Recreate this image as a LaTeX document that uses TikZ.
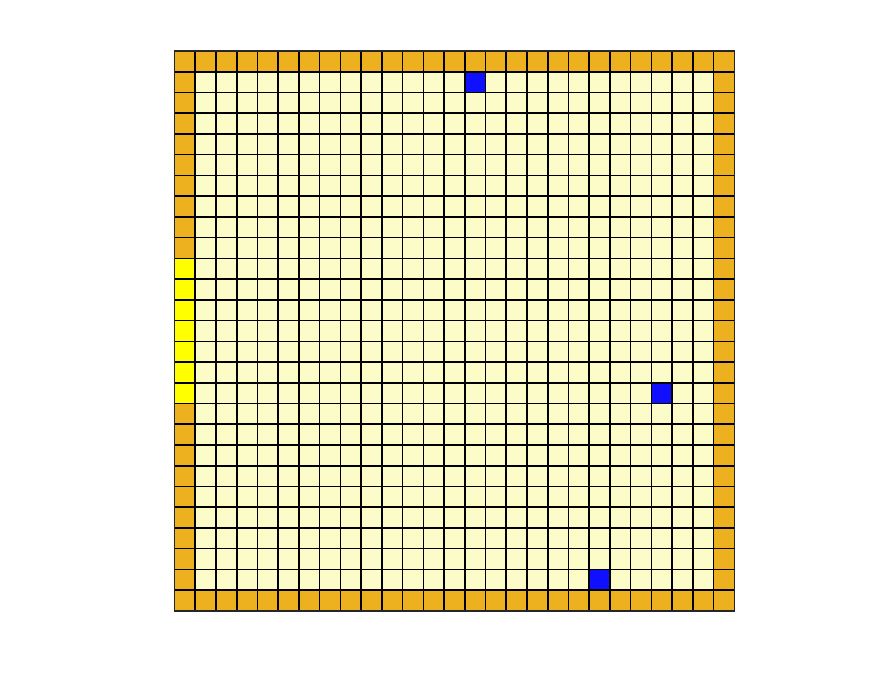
\documentclass[tikz,border=0pt]{standalone}
\definecolor{wallc}{RGB}{237,177,32}
\definecolor{floorc}{RGB}{252,252,200}
\definecolor{doorc}{RGB}{255,255,0}
\definecolor{agentc}{RGB}{16,16,255}
\begin{document}
\begin{tikzpicture}[x=0.02cm,y=-0.02cm,cellline/.style={draw=black,line width=0.9pt},frame/.style={draw=black!85,line width=0.9pt}]
\useasboundingbox (0,0) rectangle (878,686);
\begin{scope}[shift={(174.5,51)},x=0.4148cm,y=-0.4148cm]
% floor and walls
\fill[floorc] (0,0) rectangle (27,27);
\foreach \i in {0,...,26} {
  \fill[wallc] (\i,0) rectangle ++(1,1);
  \fill[wallc] (\i,26) rectangle ++(1,1);
  \fill[wallc] (0,\i) rectangle ++(1,1);
  \fill[wallc] (26,\i) rectangle ++(1,1);
}
% door
\foreach \r in {10,...,16} \fill[doorc] (0,\r) rectangle ++(1,1);
% agents
\foreach \c/\r in {14/1,23/16,20/25} \fill[agentc] (\c,\r) rectangle ++(1,1);
% grid
\foreach \k in {1,...,26} {
  \draw[cellline] (\k,0) -- (\k,27);
  \draw[cellline] (0,\k) -- (27,\k);
}
\draw[frame] (0,0) rectangle (27,27);
\end{scope}
\end{tikzpicture}
\end{document}
